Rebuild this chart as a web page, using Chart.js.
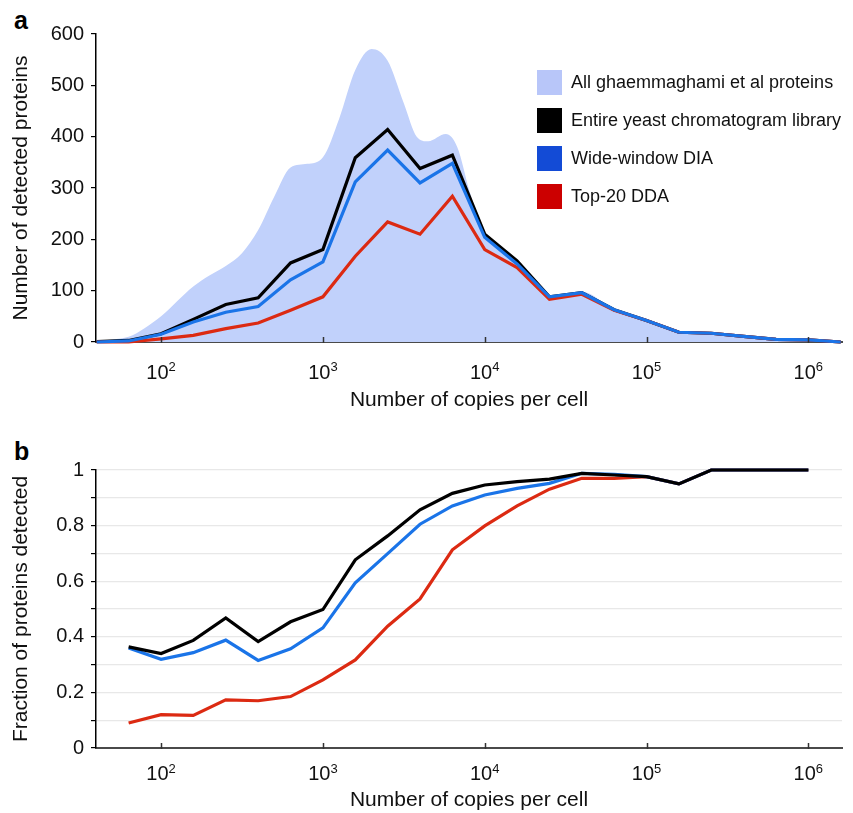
<!DOCTYPE html>
<html>
<head>
<meta charset="utf-8">
<title>Detected proteins vs copies per cell</title>
<script src="https://cdn.jsdelivr.net/npm/chart.js@4.4.1/dist/chart.umd.min.js"></script>
<style>
  html, body { margin: 0; padding: 0; background: #fff; }
  body {
    width: 853px; height: 813px; position: relative; overflow: hidden;
    font-family: 'Liberation Sans', Arial, Helvetica, sans-serif; color: #111;
  }
  canvas { position: absolute; left: 0; }
  #chartA { top: 0; }
  #chartB { top: 420px; }
  .panel { position: absolute; left: 14px; font-weight: bold; font-size: 25px; line-height: 25px; color: #000; }
  #legend { position: absolute; left: 537px; top: 70px; }
  .row { position: relative; height: 38px; }
  .sw { position: absolute; left: 0; top: 0; width: 25px; height: 25px; }
  .lbl { position: absolute; left: 34px; top: 0; font-size: 18px; line-height: 25px; white-space: nowrap; }
</style>
</head>
<body>
<div class="panel" style="top:8px">a</div>
<div class="panel" style="top:439px">b</div>
<canvas id="chartA" width="853" height="420"></canvas>
<canvas id="chartB" width="853" height="393"></canvas>
<div id="legend"></div>

<script>
// ── Data ────────────────────────────────────────────────────────────────────
const FONT = "'Liberation Sans', Arial, Helvetica, sans-serif";

// panel a: bins of copies per cell (0.2 log steps)
const copiesA = [40, 63, 100, 158, 251, 398, 631, 1000, 1585, 2512, 3981, 6310,
  10000, 15849, 25119, 39811, 63096, 100000, 158489, 251189, 398107, 630957, 1000000, 1584893];
const libraryA = [1, 3, 16, 44, 73, 86, 154, 180, 359, 414, 338, 364,
  210, 158, 88, 96, 63, 42, 19, 17, 11, 5, 4, 0];
const wideDiaA = [0, 2, 15, 39, 58, 69, 121, 156, 312, 374, 310, 348,
  204, 152, 88, 96, 63, 42, 19, 17, 11, 5, 4, 0];
const ddaA = [0, 0, 6, 13, 26, 37, 62, 88, 167, 234, 210, 284,
  180, 145, 83, 93, 62, 42, 19, 17, 11, 5, 4, 0];

// smooth "all proteins" envelope
const allCopies = [40, 50, 63, 79, 100, 126, 158, 200, 251, 316, 398, 500, 631, 800,
  1000, 1260, 1585, 2000, 2512, 3162, 3800, 4470, 5750, 6760, 8130,
  10000, 15849, 25119, 39811, 63096, 100000, 158489, 251189, 398107, 630957, 1000000, 1584893];
const allProteins = [2, 5, 10, 27, 50, 80, 108, 130, 148, 173, 218, 283, 340, 347,
  360, 435, 530, 571, 548, 465, 400, 391, 405, 380, 290,
  215, 160, 89, 98, 64, 43, 20, 18, 12, 6, 5, 0];

// panel b: fraction detected
const copiesB = [63, 100, 158, 251, 398, 631, 1000, 1585, 2512, 3981, 6310,
  10000, 15849, 25119, 39811, 63096, 100000, 158489, 251189, 398107, 630957, 1000000];
const libraryB = [0.364, 0.340, 0.387, 0.468, 0.383, 0.454, 0.498, 0.677, 0.763, 0.857, 0.916,
  0.946, 0.958, 0.967, 0.988, 0.982, 0.976, 0.950, 1, 1, 1, 1];
const wideDiaB = [0.360, 0.319, 0.343, 0.388, 0.315, 0.357, 0.432, 0.594, 0.699, 0.805, 0.871,
  0.910, 0.934, 0.952, 0.988, 0.984, 0.976, 0.950, 1, 1, 1, 1];
const ddaB = [0.090, 0.120, 0.117, 0.173, 0.170, 0.185, 0.245, 0.317, 0.438, 0.536, 0.713,
  0.799, 0.871, 0.931, 0.970, 0.970, 0.976, 0.950, 1, 1, 1, 1];

// ticks
const xTickValues = [1e2, 1e3, 1e4, 1e5, 1e6];
const xTickExps = ['2', '3', '4', '5', '6'];
const yLabelsB = ['0', '0.2', '0.4', '0.6', '0.8', '1'];

// legend
const legendLabels = ['All ghaemmaghami et al proteins', 'Entire yeast chromatogram library',
  'Wide-window DIA', 'Top-20 DDA'];
const legendColors = ['#b8c6f9', '#000000', '#134bd6', '#cc0000'];

// ── Style ───────────────────────────────────────────────────────────────────
const C_AREA = '#c1d1fb';
const C_BLACK = '#000000';
const C_BLUE = '#1a74e8';
const C_RED = '#dc2a12';

Chart.defaults.font.family = FONT;
Chart.defaults.color = '#111';

function pts(xs, ys) {
  return xs.map((x, i) => ({ x: x, y: ys[i] }));
}

// draws "10" with a raised exponent under each decade tick,
// plus a short tick mark pointing up into the plot
const powerLabels = {
  id: 'powerLabels',
  afterDraw(chart, args, opts) {
    const xs = chart.scales.x;
    const ctx = chart.ctx;
    ctx.save();
    ctx.strokeStyle = '#333';
    ctx.lineWidth = 1.5;
    xTickValues.forEach(v => {
      const px = Math.round(xs.getPixelForValue(v)) + 0.5;
      ctx.beginPath();
      ctx.moveTo(px, xs.top - 5);
      ctx.lineTo(px, xs.top + 1);
      ctx.stroke();
    });
    ctx.fillStyle = '#111';
    ctx.textBaseline = 'alphabetic';
    ctx.textAlign = 'left';
    xTickValues.forEach((v, i) => {
      const px = xs.getPixelForValue(v);
      ctx.font = '20px ' + FONT;
      const wb = ctx.measureText('10').width;
      ctx.font = '13px ' + FONT;
      const we = ctx.measureText(xTickExps[i]).width;
      const x0 = px - (wb + we) / 2;
      const y = xs.top + opts.offset;
      ctx.font = '20px ' + FONT;
      ctx.fillText('10', x0, y);
      ctx.font = '13px ' + FONT;
      ctx.fillText(xTickExps[i], x0 + wb, y - 7.5);
    });
    ctx.restore();
  }
};

function xAxis(height, titlePad) {
  return {
    type: 'logarithmic',
    min: 39.6,
    max: 1614000,
    z: 1,
    afterFit: s => { s.height = height; },
    afterBuildTicks: s => { s.ticks = xTickValues.map(v => ({ value: v })); },
    ticks: { display: false },
    grid: { display: false },
    border: { color: '#4a4a4a', width: 2 },
    title: {
      display: true, text: 'Number of copies per cell',
      font: { size: 21 }, color: '#111', padding: { top: 0, bottom: titlePad }
    }
  };
}

function lineSet(label, xs, ys, color, order) {
  return {
    label: label,
    data: pts(xs, ys),
    borderColor: color,
    backgroundColor: color,
    borderWidth: 3.2,
    pointRadius: 0,
    fill: false,
    tension: 0,
    clip: false,
    order: order
  };
}

// ── Panel a ─────────────────────────────────────────────────────────────────
new Chart(document.getElementById('chartA'), {
  type: 'line',
  data: {
    datasets: [
      {
        label: legendLabels[0],
        data: pts(allCopies, allProteins),
        backgroundColor: C_AREA,
        borderWidth: 0,
        pointRadius: 0,
        fill: 'origin',
        cubicInterpolationMode: 'monotone',
        order: 4
      },
      lineSet(legendLabels[1], copiesA, libraryA, C_BLACK, 3),
      lineSet(legendLabels[3], copiesA, ddaA, C_RED, 2),
      lineSet(legendLabels[2], copiesA, wideDiaA, C_BLUE, 1)
    ]
  },
  options: {
    responsive: false,
    animation: false,
    events: [],
    layout: { padding: { top: 34, right: 11, left: 0, bottom: 0 } },
    plugins: { legend: { display: false }, tooltip: { enabled: false }, powerLabels: { offset: 36.5 } },
    scales: {
      x: xAxis(78, 7),
      y: {
        min: 0, max: 600, z: 1,
        afterFit: s => { s.width = 96; },
        ticks: {
          stepSize: 50,
          callback: v => (v % 100 === 0 ? String(v) : ''),
          font: { size: 20 }, color: '#111', padding: 7
        },
        grid: { drawOnChartArea: false, tickLength: 5, tickColor: '#000', lineWidth: 1.2 },
        border: { color: '#000', width: 1.5 },
        title: {
          display: true, text: 'Number of detected proteins',
          font: { size: 21 }, color: '#111', padding: { top: 9, bottom: 0 }
        }
      }
    }
  },
  plugins: [powerLabels]
});

// ── Panel b ─────────────────────────────────────────────────────────────────
new Chart(document.getElementById('chartB'), {
  type: 'line',
  data: {
    datasets: [
      lineSet(legendLabels[3], copiesB, ddaB, C_RED, 3),
      lineSet(legendLabels[2], copiesB, wideDiaB, C_BLUE, 2),
      lineSet(legendLabels[1], copiesB, libraryB, C_BLACK, 1)
    ]
  },
  options: {
    responsive: false,
    animation: false,
    events: [],
    layout: { padding: { top: 50, right: 11, left: 0, bottom: 0 } },
    plugins: { legend: { display: false }, tooltip: { enabled: false }, powerLabels: { offset: 32 } },
    scales: {
      x: xAxis(65, 0),
      y: {
        min: 0, max: 1, z: 1,
        afterFit: s => { s.width = 96; },
        ticks: {
          stepSize: 0.1,
          callback: v => {
            const k = Math.round(v * 10);
            return k % 2 === 0 ? yLabelsB[k / 2] : '';
          },
          font: { size: 20 }, color: '#111', padding: 7
        },
        grid: {
          drawOnChartArea: true, tickLength: 5, tickColor: '#000', lineWidth: 1.2,
          color: ctx => (ctx.tick && ctx.tick.value === 0 ? 'rgba(0,0,0,0)' : '#e8e8e8')
        },
        border: { color: '#000', width: 1.5 },
        title: {
          display: true, text: 'Fraction of proteins detected',
          font: { size: 21 }, color: '#111', padding: { top: 9, bottom: 0 }
        }
      }
    }
  },
  plugins: [powerLabels]
});

// ── Legend (panel a) ────────────────────────────────────────────────────────
const legendBox = document.getElementById('legend');
legendLabels.forEach((text, i) => {
  const row = document.createElement('div');
  row.className = 'row';
  row.innerHTML = '<div class="sw" style="background:' + legendColors[i] + '"></div>' +
    '<div class="lbl"></div>';
  row.querySelector('.lbl').textContent = text;
  legendBox.appendChild(row);
});
</script>
</body>
</html>
